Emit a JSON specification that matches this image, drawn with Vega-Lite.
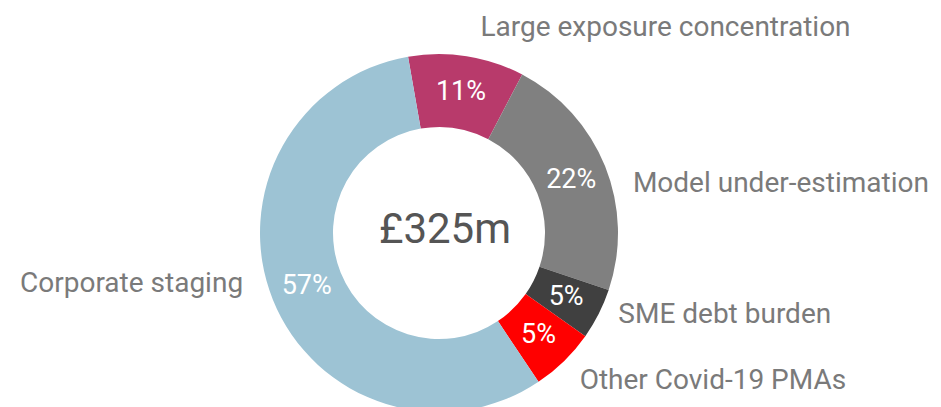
{
  "$schema": "https://vega.github.io/schema/vega-lite/v6.json",
  "width": 878,
  "height": 348,
  "autosize": {"type": "none"},
  "padding": {"left": 0, "top": 59, "right": 63, "bottom": 0},
  "background": "white",
  "config": {"view": {"stroke": null}},
  "datasets": {
    "seg": [
      {"category": "Large exposure concentration", "value": 34, "pct": "11%", "order": 1},
      {"category": "Model under-estimation", "value": 73, "pct": "22%", "order": 2},
      {"category": "SME debt burden", "value": 15, "pct": "5%", "order": 3},
      {"category": "Other Covid-19 PMAs", "value": 19, "pct": "5%", "order": 4},
      {"category": "Corporate staging", "value": 184, "pct": "57%", "order": 5}
    ]
  },
  "data": {"name": "seg"},
  "encoding": {
    "theta": {"field": "value", "type": "quantitative", "stack": true, "scale": {"range": [-0.1738, 6.1094]}},
    "order": {"field": "order", "type": "quantitative"}
  },
  "layer": [
    {
      "mark": {"type": "arc", "radius": 179, "radius2": 106},
      "encoding": {
        "color": {
          "field": "category",
          "type": "nominal",
          "legend": null,
          "scale": {
            "domain": ["Large exposure concentration", "Model under-estimation", "SME debt burden", "Other Covid-19 PMAs", "Corporate staging"],
            "range": ["#b83a6b", "#808080", "#404040", "#ff0000", "#9dc3d4"]
          }
        }
      }
    },
    {
      "mark": {"type": "text", "radius": 142.5, "font": "Roboto", "fontSize": 27, "color": "white", "baseline": "middle", "align": "center"},
      "encoding": {"text": {"field": "pct"}}
    },
    {
      "mark": {"type": "text", "radius": 210, "font": "Roboto", "fontSize": 28, "color": "#7a7a7a", "baseline": "alphabetic", "align": "left", "dx": 9, "dy": 10},
      "encoding": {"text": {"condition": {"test": "datum.order == 1", "field": "category"}, "value": ""}}
    },
    {
      "mark": {"type": "text", "radius": 210, "font": "Roboto", "fontSize": 28, "color": "#7a7a7a", "baseline": "alphabetic", "align": "left", "dx": -1, "dy": 37},
      "encoding": {"text": {"condition": {"test": "datum.order == 2", "field": "category"}, "value": ""}}
    },
    {
      "mark": {"type": "text", "radius": 210, "font": "Roboto", "fontSize": 28, "color": "#7a7a7a", "baseline": "alphabetic", "align": "left", "dx": -8, "dy": -5},
      "encoding": {"text": {"condition": {"test": "datum.order == 3", "field": "category"}, "value": ""}}
    },
    {
      "mark": {"type": "text", "radius": 210, "font": "Roboto", "fontSize": 28, "color": "#7a7a7a", "baseline": "alphabetic", "align": "left", "dx": -6, "dy": 6},
      "encoding": {"text": {"condition": {"test": "datum.order == 4", "field": "category"}, "value": ""}}
    },
    {
      "mark": {"type": "text", "radius": 210, "font": "Roboto", "fontSize": 28, "color": "#7a7a7a", "baseline": "alphabetic", "align": "right", "dx": -1, "dy": -19},
      "encoding": {"text": {"condition": {"test": "datum.order == 5", "field": "category"}, "value": ""}}
    },
    {
      "data": {"values": [{"label": "£325m"}]},
      "mark": {"type": "text", "font": "Roboto", "fontSize": 42, "color": "#555555", "baseline": "middle", "align": "center", "dx": 6, "dy": -3},
      "encoding": {"text": {"field": "label"}, "theta": null, "order": null}
    }
  ]
}
